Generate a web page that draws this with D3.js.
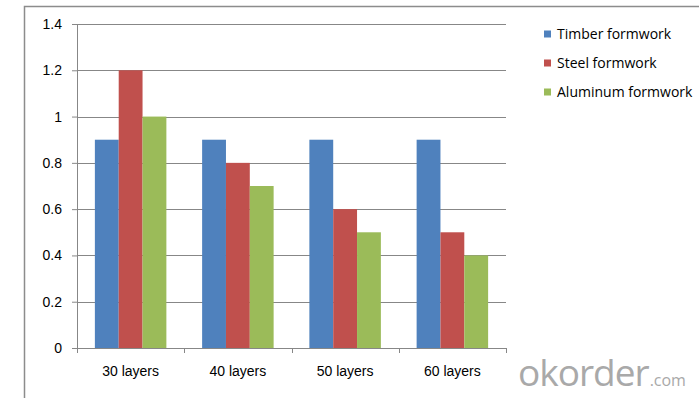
<!DOCTYPE html>
<html>
<head>
<meta charset="utf-8">
<script src="https://cdn.jsdelivr.net/npm/d3@7"></script>
<style>
  body { margin: 0; background: #fff; }
  svg { display: block; font-family: "Open Sans", "Noto Sans", sans-serif; }
</style>
</head>
<body>
<div id="chart"></div>
<script>
const categories = ["30 layers", "40 layers", "50 layers", "60 layers"];
const seriesNames = ["Timber formwork", "Steel formwork", "Aluminum formwork"];
const timber = [0.9, 0.9, 0.9, 0.9];
const steel = [1.2, 0.8, 0.6, 0.5];
const aluminum = [1.0, 0.7, 0.5, 0.4];
const yTicks = [0, 0.2, 0.4, 0.6, 0.8, 1, 1.2, 1.4];

const colors = ["#4F81BD", "#C0504D", "#9BBB59"];
const seriesValues = [timber, steel, aluminum];

const width = 699, height = 398;
const margin = { top: 24, right: 193, bottom: 50, left: 77 };
const innerW = width - margin.left - margin.right;
const innerH = height - margin.top - margin.bottom;

const svg = d3.select("#chart").append("svg")
  .attr("width", width)
  .attr("height", height);

// outer chart frame (clipped at right/bottom like the screenshot)
svg.append("path")
  .attr("d", `M24.5,${height} V6.5 H${width}`)
  .attr("fill", "none")
  .attr("stroke", "#8c8c8c")
  .attr("stroke-width", 1.5);

const g = svg.append("g")
  .attr("transform", `translate(${margin.left},${margin.top})`);

const x = d3.scaleBand()
  .domain(categories)
  .range([0, innerW])
  .paddingInner(0)
  .paddingOuter(0);

// Excel style gap width 150%: bar w, gap 1.5w per category
const barW = x.bandwidth() / 4.5;
const xs = d3.scaleBand()
  .domain(seriesNames)
  .range([barW * 0.75, barW * 3.75]);

const y = d3.scaleLinear()
  .domain([0, 1.4])
  .range([innerH, 0]);

// gridlines
g.selectAll("line.grid")
  .data(yTicks.filter(d => d > 0))
  .enter().append("line")
  .attr("class", "grid")
  .attr("x1", 0).attr("x2", innerW)
  .attr("y1", d => Math.round(y(d)) + 0.5)
  .attr("y2", d => Math.round(y(d)) + 0.5)
  .attr("stroke", "#878787");

// bars
const grp = g.selectAll("g.cat")
  .data(categories)
  .enter().append("g")
  .attr("class", "cat")
  .attr("transform", d => `translate(${x(d)},0)`);

grp.selectAll("rect")
  .data((c, i) => seriesNames.map((s, j) => ({ s, j, v: seriesValues[j][i] })))
  .enter().append("rect")
  .attr("x", d => xs(d.s))
  .attr("width", xs.bandwidth())
  .attr("y", d => y(d.v))
  .attr("height", d => innerH - y(d.v))
  .attr("fill", d => colors[d.j]);

// y axis
const yAxis = g.append("g")
  .call(d3.axisLeft(y).tickValues(yTicks).tickSize(5).tickPadding(10)
    .tickFormat(d => d3.format("")(+d.toFixed(1))));
yAxis.select(".domain").attr("stroke", "#878787").attr("d", `M-5,0.5 H0.5 V${innerH + 0.5} H-5`);
yAxis.selectAll(".tick line").attr("stroke", "#878787");
yAxis.selectAll("text").attr("fill", "#000").attr("font-size", 14);

// x axis
const xAxis = g.append("g")
  .attr("transform", `translate(0,${innerH})`)
  .call(d3.axisBottom(x).tickSize(0).tickPadding(18));
xAxis.select(".domain").attr("stroke", "#878787").attr("d", `M0.5,0.5 H${innerW + 0.5}`);
xAxis.selectAll("text").attr("fill", "#000").attr("font-size", 14);

// category boundary ticks
g.selectAll("line.xtick")
  .data(d3.range(categories.length + 1))
  .enter().append("line")
  .attr("class", "xtick")
  .attr("x1", i => Math.round(i * x.step()) + 0.5)
  .attr("x2", i => Math.round(i * x.step()) + 0.5)
  .attr("y1", innerH).attr("y2", innerH + 5)
  .attr("stroke", "#878787");

// legend
const legend = svg.append("g")
  .attr("transform", "translate(544,34)");
const item = legend.selectAll("g")
  .data(seriesNames)
  .enter().append("g")
  .attr("transform", (d, i) => `translate(0,${i * 29})`);
item.append("rect")
  .attr("x", 0).attr("y", -3.5)
  .attr("width", 7).attr("height", 7)
  .attr("fill", (d, i) => colors[i]);
item.append("text")
  .attr("x", 13).attr("y", 0)
  .attr("dy", "0.35em")
  .attr("font-size", 14)
  .attr("fill", "#000")
  .text(d => d);

// watermark
const wm = svg.append("text")
  .attr("x", 518).attr("y", 386)
  .attr("fill", "#a9a9a9")
  .attr("font-size", 37)
  .attr("letter-spacing", -1)
  .text("okorder");
const wmEnd = 518 + wm.node().getComputedTextLength();
svg.append("text")
  .attr("x", wmEnd + 1).attr("y", 386)
  .attr("fill", "#a9a9a9")
  .attr("font-size", 16)
  .text(".com");
</script>
</body>
</html>
